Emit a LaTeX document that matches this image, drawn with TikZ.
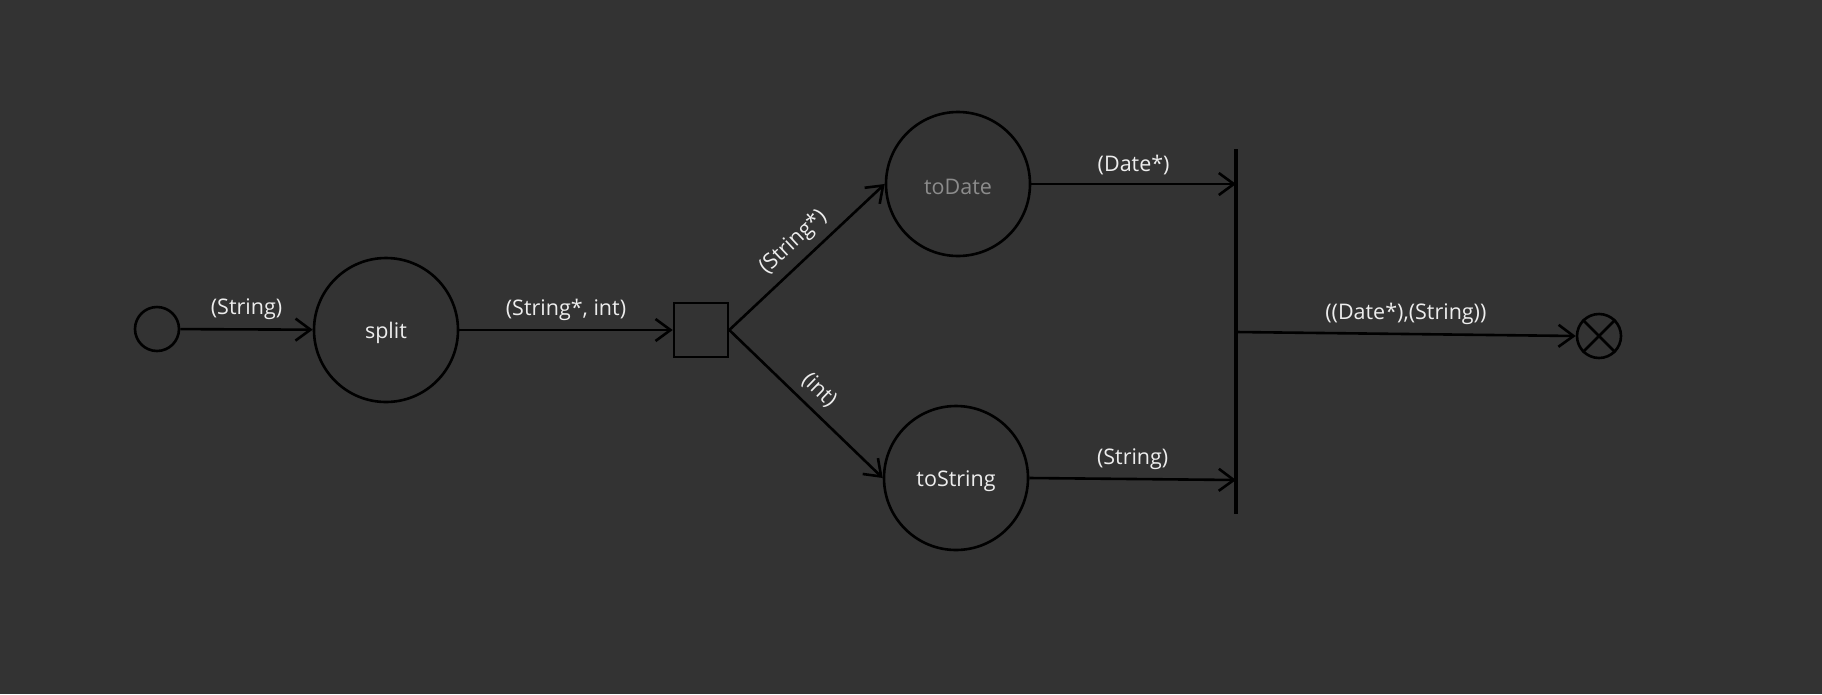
\documentclass[tikz,border=0pt]{standalone}
\usepackage{fontspec}
\setmainfont{Open Sans}
\usetikzlibrary{arrows.meta}
\definecolor{bg}{HTML}{333333}
\definecolor{txt}{HTML}{EDEDED}
\definecolor{dim}{HTML}{8C8C8C}
\begin{document}
\begin{tikzpicture}[x=1pt,y=-1pt,
  every node/.style={font=\fontsize{21.5}{24}\selectfont, text=txt},
  conn/.style={draw=black, line width=2.6pt, -{Straight Barb[length=15pt,width=22pt]}},
  proc/.style={circle, draw=black, line width=2.6pt, minimum size=144pt, inner sep=0pt},
  term/.style={circle, draw=black, line width=2.6pt, minimum size=44pt, inner sep=0pt},
  lbl/.style={midway, above, inner sep=8pt},
  ptext/.style={label={[yshift=-3pt, text=#1]center:}},
]
\fill[bg] (0,0) rectangle (1822,694);
\useasboundingbox (0,0) rectangle (1822,694);

\node[term] (start) at (157,329) {};
\node[proc, label={[yshift=-3pt]center:split}] (split) at (386,330) {};
\node[draw=black, line width=2.6pt, minimum size=54pt, inner sep=0pt] (sq) at (701,330) {};
\node[proc, label={[yshift=-3pt, text=dim]center:toDate}] (todate) at (958,184) {};
\node[proc, label={[yshift=-3pt]center:toString}] (tostring) at (956,478) {};
\coordinate (bartop) at (1236,149);
\coordinate (barbot) at (1236,514);
\coordinate (barA) at (1236,184);
\coordinate (barB) at (1236,480);
\coordinate (barC) at (1236,332);
\node[term] (end) at (1599,336) {};

\draw[line width=3.4pt] (bartop) -- (barbot);
\draw[line width=2.6pt] (end.north west) -- (end.south east);
\draw[line width=2.6pt] (end.north east) -- (end.south west);

\draw[conn] (start) -- node[lbl] {(String)} (split);
\draw[conn] (split) -- node[lbl] {(String*, int)} (sq);
\draw[conn] (sq.east) -- node[lbl, sloped] {(String*)} (todate.west);
\draw[conn] (sq.east) -- node[lbl, sloped] {(int)} (tostring.west);
\draw[conn] (todate) -- node[lbl] {(Date*)} (barA);
\draw[conn] (tostring.east) -- node[lbl] {(String)} (barB);
\draw[conn] (barC) -- node[lbl] {((Date*),(String))} (end.west);
\end{tikzpicture}
\end{document}
